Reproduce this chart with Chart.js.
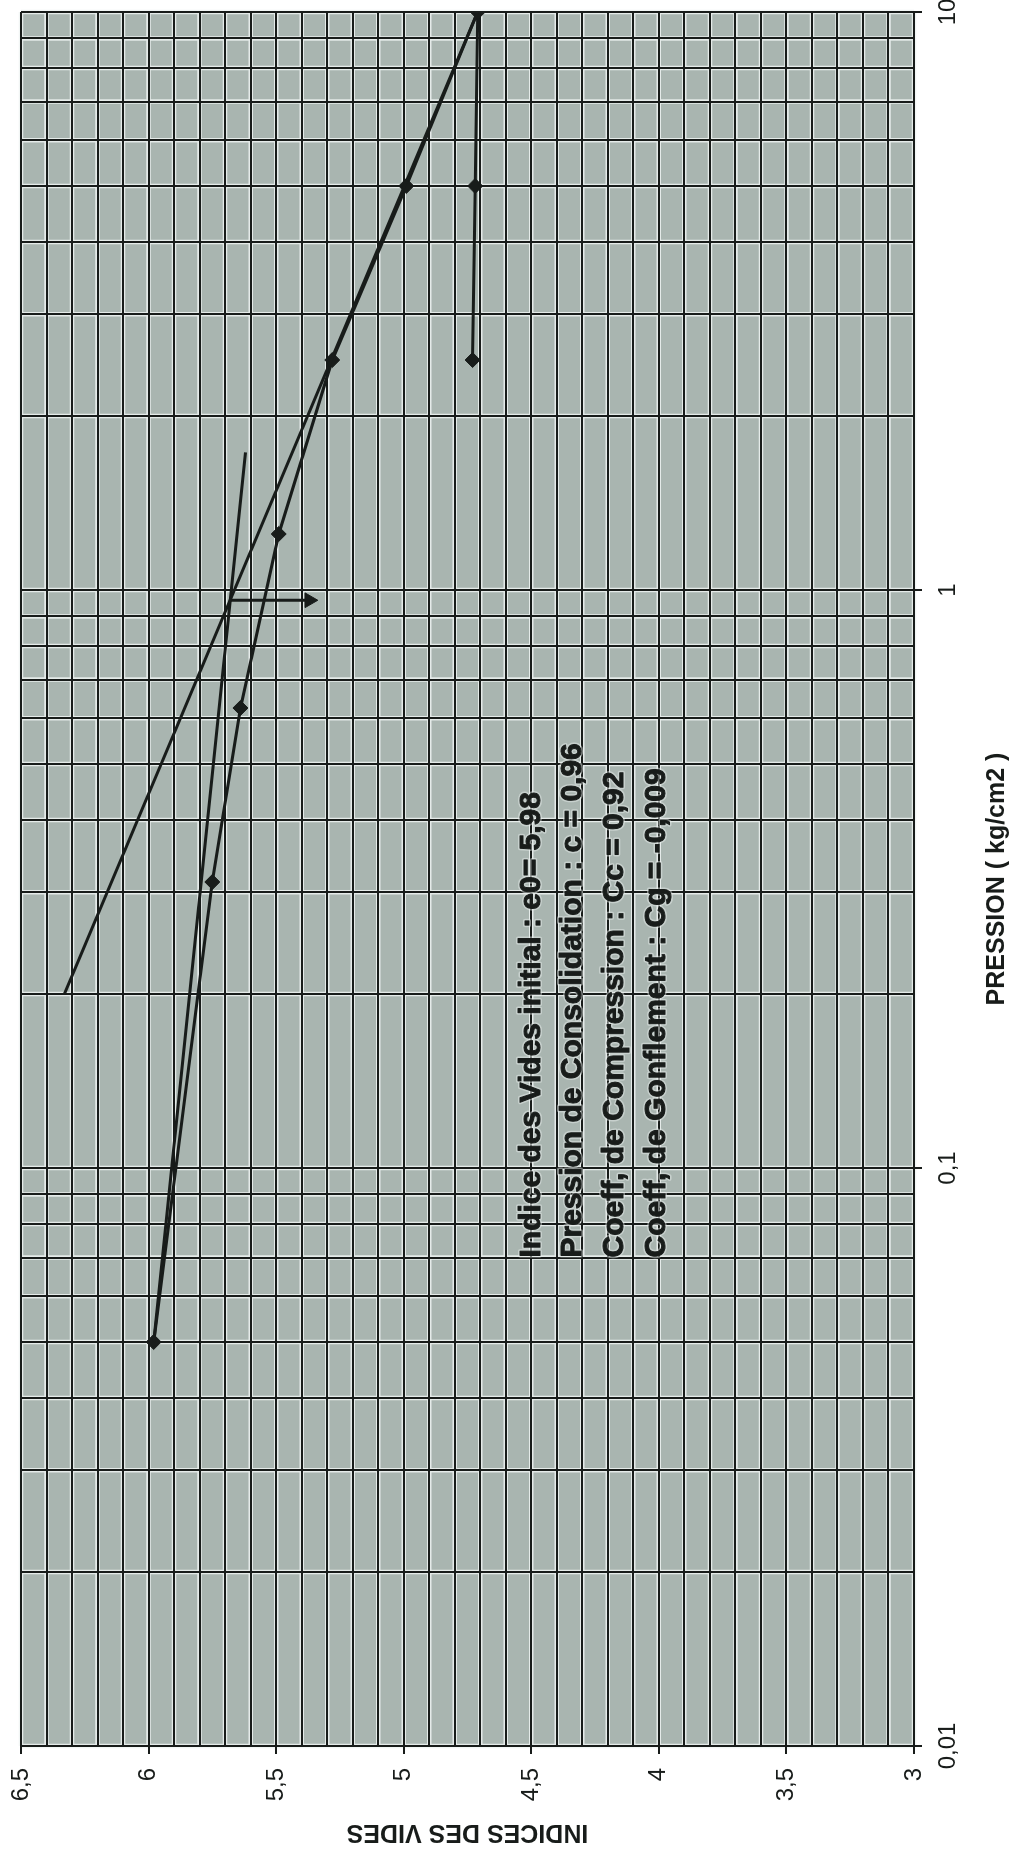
<!DOCTYPE html>
<html><head><meta charset="utf-8">
<script src="https://cdn.jsdelivr.net/npm/chart.js@4/dist/chart.umd.min.js"></script>
<style>
html,body{margin:0;padding:0;background:#fff;overflow:hidden;}
#wrap{position:relative;width:1016px;height:1852px;overflow:hidden;background:#fff;}
#c{position:absolute;left:0;top:0;width:1852px;height:1016px;transform-origin:0 0;transform:translate(0,1852px) rotate(-90deg);}
</style></head><body>
<div id="wrap"><canvas id="c" width="1852" height="1016"></canvas></div>
<script>
// ---- data ----
const pressure  = [0.05, 0.3125, 0.625, 1.25, 2.5, 5, 10, 5, 2.5];
const voidRatio = [5.98, 5.75, 5.64, 5.49, 5.28, 4.99, 4.71, 4.72, 4.73];
const virginP = [0.2, 10];
const virginE = [6.33, 4.71];
const recompP = [0.05, 1.73];
const recompE = [5.98, 5.62];
const arrowP = [0.96, 0.96];
const arrowE = [5.68, 5.37];
const xMajorTicks = [0.01, 0.1, 1, 10];
const xTickLabels = ['0,01', '0,1', '1', '10'];
const yMajorTicks = [6.5, 6, 5.5, 5, 4.5, 4, 3.5, 3];
const yTickLabels = ['6,5', '6', '5,5', '5', '4,5', '4', '3,5', '3'];
const xTitle = 'PRESSION ( kg/cm2 )';
const yTitle = 'INDICES DES VIDES';
const notes = [
  'Indice des Vides initial : e0= 5,98',
  'Pression de Consolidation : c = 0,96',
  'Coeff, de Compression : Cc = 0,92',
  'Coeff, de Gonflement : Cg = -0,009'
];
const noteP = 0.07;
const noteE = 4.5;

// ---- styling ----
const INK = '#181c1a';
const BG = '#a9b5b0';
const FONT = '"Liberation Sans", Arial, sans-serif';

const pts = (xs, ys) => xs.map((v, i) => ({x: v, y: ys[i]}));
const isMajorX = v => xMajorTicks.some(m => Math.abs(v - m) / m < 1e-6);
const isMajorY = v => yMajorTicks.some(m => Math.abs(v - m) < 1e-6);

const paperPlugin = {
  id: 'paper',
  beforeDraw(chart) {
    const {ctx, chartArea: a, scales: {x, y}} = chart;
    ctx.save();
    ctx.fillStyle = BG;
    ctx.fillRect(a.left, a.top, a.right - a.left, a.bottom - a.top);
    ctx.strokeStyle = 'rgba(240,245,243,0.85)';
    ctx.lineWidth = 4.5;
    ctx.beginPath();
    x.ticks.forEach(t => { const p = x.getPixelForValue(t.value); ctx.moveTo(p, a.top); ctx.lineTo(p, a.bottom); });
    y.ticks.forEach(t => { const p = y.getPixelForValue(t.value); ctx.moveTo(a.left, p); ctx.lineTo(a.right, p); });
    ctx.stroke();
    ctx.restore();
  },
  afterDatasetsDraw(chart) {
    const {ctx, scales: {x, y}} = chart;
    ctx.save();
    ctx.font = 'bold 30px ' + FONT;
    ctx.textAlign = 'left';
    ctx.textBaseline = 'middle';
    const px = x.getPixelForValue(noteP);
    const py = y.getPixelForValue(noteE);
    notes.forEach((t, i) => {
      const yy = py + i * 41.7;
      ctx.lineJoin = 'round';
      ctx.lineWidth = 4;
      ctx.strokeStyle = 'rgba(230,236,233,0.5)';
      ctx.strokeText(t, px, yy);
      ctx.lineWidth = 1;
      ctx.strokeStyle = INK;
      ctx.strokeText(t, px, yy);
      ctx.fillStyle = INK;
      ctx.fillText(t, px, yy);
    });
    ctx.restore();
  }
};

Chart.defaults.font.family = FONT;
Chart.defaults.color = INK;

new Chart(document.getElementById('c'), {
  type: 'scatter',
  data: {
    datasets: [
      {data: pts(virginP, virginE), showLine: true, borderColor: INK, borderWidth: 3, pointRadius: 0},
      {data: pts(recompP, recompE), showLine: true, borderColor: INK, borderWidth: 3, pointRadius: 0},
      {data: pts(arrowP, arrowE), showLine: true, borderColor: INK, borderWidth: 3,
       pointRadius: [0, 8.5], pointStyle: 'triangle', rotation: [0, 180],
       backgroundColor: INK, pointBackgroundColor: INK, pointBorderColor: INK, pointBorderWidth: 1},
      {data: pts(pressure, voidRatio), showLine: true, borderColor: INK, borderWidth: 3,
       pointStyle: 'rectRot', pointRadius: 7.5, pointBackgroundColor: INK, pointBorderColor: INK, pointBorderWidth: 1}
    ]
  },
  options: {
    responsive: false,
    animation: false,
    devicePixelRatio: 1,
    events: [],
    layout: {padding: {top: 21, right: 12, left: 0, bottom: 0}},
    plugins: {legend: {display: false}, tooltip: {enabled: false}},
    scales: {
      x: {
        type: 'logarithmic', position: 'bottom', min: 0.01, max: 10,
        afterBuildTicks(s) {
          const t = [];
          xMajorTicks.forEach((d, i) => {
            if (i === xMajorTicks.length - 1) { t.push({value: d}); return; }
            for (let k = 1; k <= 9; k++) t.push({value: k * d});
          });
          s.ticks = t;
        },
        afterFit(s) { s.height = 102; s.paddingLeft = 0; s.paddingRight = 0; },
        ticks: {
          autoSkip: false, maxRotation: 0, minRotation: 0, padding: 12,
          font: {size: 24}, color: INK,
          callback(v) { const i = xMajorTicks.findIndex(m => Math.abs(v - m) / m < 1e-6); return i >= 0 ? xTickLabels[i] : ''; }
        },
        grid: {
          color: INK, lineWidth: 2, tickLength: 8,
          tickColor: c => (c.tick && isMajorX(c.tick.value)) ? INK : 'rgba(0,0,0,0)'
        },
        border: {display: true, color: INK, width: 2},
        title: {display: true, text: xTitle, color: INK, font: {size: 25, weight: 'bold'}, padding: {top: 0, bottom: 4}}
      },
      y: {
        type: 'linear', position: 'left', min: 3, max: 6.5,
        afterBuildTicks(s) {
          const t = [];
          for (let i = 0; i <= 35; i++) t.push({value: Math.round((3 + i * 0.1) * 10) / 10});
          s.ticks = t;
        },
        afterFit(s) { s.width = 106; s.paddingTop = 0; s.paddingBottom = 0; },
        ticks: {
          autoSkip: false, padding: 14, font: {size: 24}, color: INK,
          callback(v) { const i = yMajorTicks.findIndex(m => Math.abs(v - m) < 1e-6); return i >= 0 ? yTickLabels[i] : ''; }
        },
        grid: {
          color: INK, lineWidth: 2, tickLength: 8,
          tickColor: c => (c.tick && isMajorY(c.tick.value)) ? INK : 'rgba(0,0,0,0)'
        },
        border: {display: true, color: INK, width: 2},
        title: {display: true, text: yTitle, color: INK, font: {size: 25, weight: 'bold'}, padding: {top: 5, bottom: 0}}
      }
    }
  },
  plugins: [paperPlugin]
});
</script>
</body></html>
